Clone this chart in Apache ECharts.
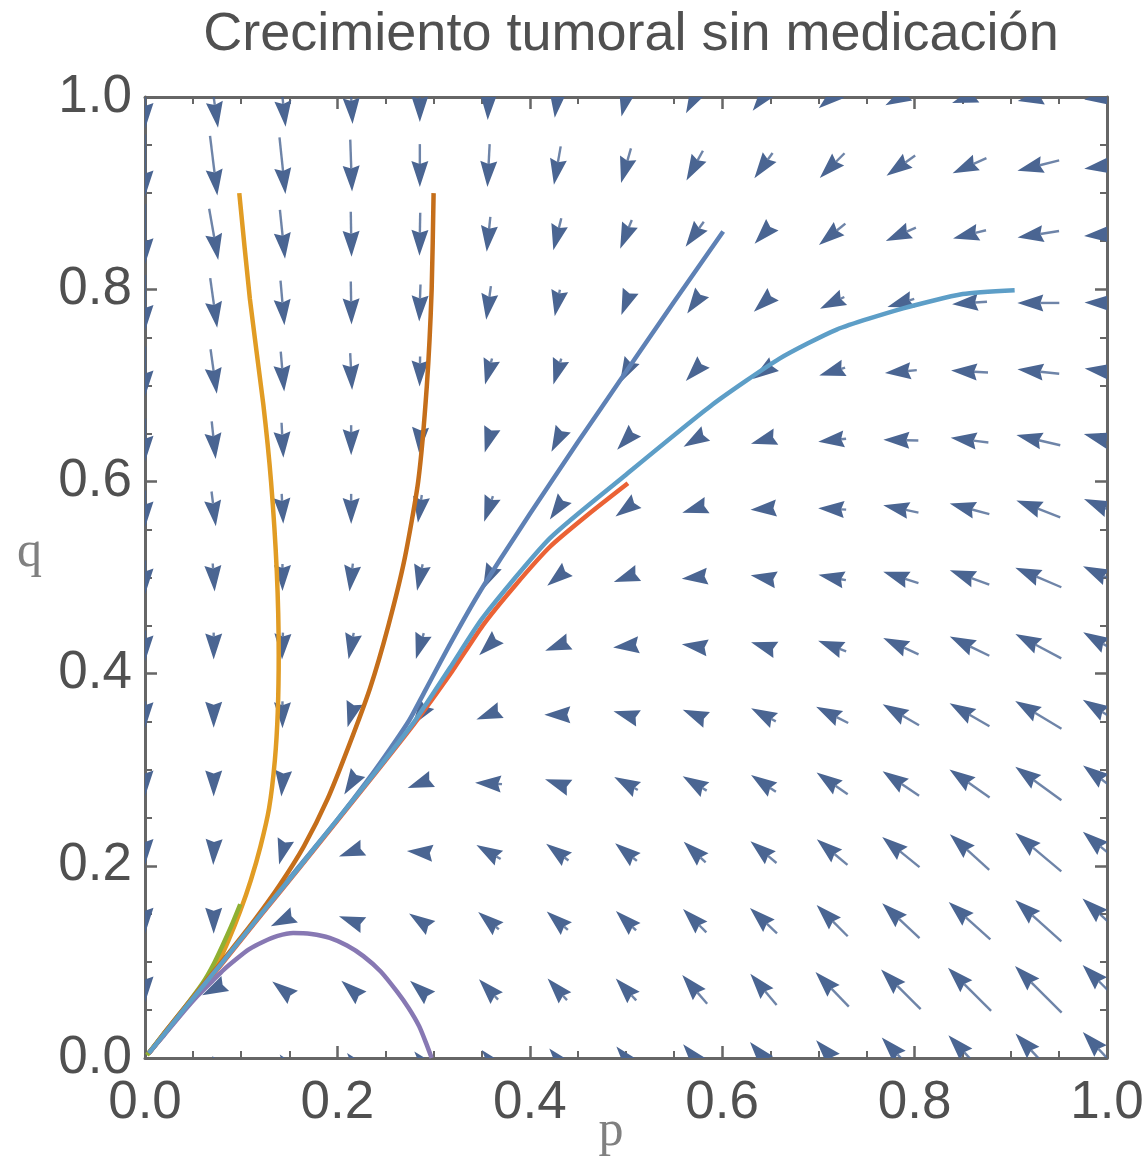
<!DOCTYPE html>
<html><head><meta charset="utf-8">
<script src="https://cdn.jsdelivr.net/npm/echarts/dist/echarts.min.js"></script>
<style>html,body{margin:0;padding:0;background:#fff}#c{width:1147px;height:1164px}</style>
</head><body><div id="c"></div>
<script>
// Grid of the vector field (15 x 15 points, step 1/14)
const gridP = [0,0.0714,0.1429,0.2143,0.2857,0.3571,0.4286,0.5,0.5714,0.6429,0.7143,0.7857,0.8571,0.9286,1];
const gridQ = [0,0.0714,0.1429,0.2143,0.2857,0.3571,0.4286,0.5,0.5714,0.6429,0.7143,0.7857,0.8571,0.9286,1];
// Arrow directions in degrees (0 = +p, 90 = +q); row index = q index, column = p index
const arrowAngles = [
  [0,125,128,130,131,130,130,130,130,130,132,133,133,133,133],
  [-90,-153,142,139,139,133,132,133,131,130,134,135,135,135,135],
  [-90,-90,-154,160,146,140,139,136,135,137,135,137,138,138,138],
  [-90,-92,-105,-160,175,150,143,141,137,140,140,141,138,140,140],
  [-90,-90,-95,-122,-160,177,161,151,149,146,145,146,145,144,143],
  [-90,-90,-90,-106,-125,-159,180,164,157,152,153,150,150,149,148],
  [-90,-90,-92,-101,-107,-136,-159,-174,172,163,159,155,154,152,150],
  [-90,-86,-90,-97,-102,-115,-141,-160,-174,170,169,162,160,157,155],
  [-90,-83,-87,-90,-98,-109,-125,-144,-163,-176,177,168,165,159,157],
  [-90,-84,-87,-90,-93,-107,-117,-133,-149,-164,-174,179,173,167,165],
  [-90,-82,-85,-87,-91,-105,-107,-118,-133,-145,-163,-175,177,174,172],
  [-90,-82,-85,-89,-92,-98,-101,-111,-125,-138,-154,-163,-176,180,179],
  [-90,-80,-84,-89,-91,-96,-104,-112,-126,-133,-141,-156,-166,-171,-176],
  [-90,-83,-84,-88,-90,-93,-100,-106,-119,-126,-135,-145,-156,-166,-172],
  [-90,-82,-84,-87,-90,-92,-97,-103,-118,-128,-140,-152,-161,-169,-174]
];
// Relative arrow magnitudes (same layout)
const arrowMags = [
  [0,5,9,13,17,21,25,30,36,42,48,56,62,67,71],
  [26,26,26,26,26,28,29,30,38,41,48,56,61,66,69],
  [26,26,26,26,26,27,28,28,33,37,44,51,56,62,66],
  [26,26,26,26,26,28,28,28,30,34,40,48,53,60,63],
  [26,26,26,26,26,27,26,27,28,30,38,44,49,57,60],
  [27,26,27,26,26,26,26,26,26,28,36,42,46,54,57],
  [31,27,27,27,27,26,26,26,26,26,30,39,44,52,55],
  [34,28,27,28,27,26,26,26,26,26,28,37,42,50,53],
  [37,35,30,30,28,27,26,26,26,26,28,36,41,47,50],
  [43,38,35,30,26,26,26,26,26,26,28,35,38,45,48],
  [50,45,40,37,30,27,27,26,26,26,27,32,37,42,45],
  [56,50,45,43,37,34,27,26,26,26,27,28,35,42,45],
  [60,52,49,45,43,35,33,31,31,26,34,33,34,42,46],
  [62,60,57,52,43,43,39,36,34,31,35,35,37,43,46],
  [64,62,60,54,50,46,42,40,37,35,35,35,37,42,46]
];
// Trajectories [p, q]
const trajBlue = [[0.601,0.86],[0.55,0.787],[0.5,0.714],[0.45,0.641],[0.4,0.566],[0.37,0.52],[0.345,0.48],[0.325,0.445],[0.307,0.412],[0.29,0.38],[0.275,0.352],[0.255,0.322],[0.23,0.287],[0.2,0.248],[0.16,0.199],[0.12,0.149],[0.08,0.099],[0.04,0.05],[0.004,0.005]];
const trajOrange = [[0.098,0.9],[0.109,0.79],[0.123,0.68],[0.131,0.6],[0.137,0.506],[0.139,0.42],[0.138,0.36],[0.135,0.31],[0.129,0.26],[0.12,0.22],[0.11,0.185],[0.099,0.153],[0.087,0.123],[0.075,0.097],[0.06,0.076],[0.04,0.05],[0.02,0.025],[0.003,0.004]];
const trajGreen = [[0.099,0.16],[0.09,0.138],[0.081,0.118],[0.071,0.097],[0.06,0.078],[0.04,0.051],[0.02,0.026],[0.002,0.003]];
const trajRed = [[0.502,0.598],[0.46,0.565],[0.421,0.532],[0.385,0.492],[0.351,0.45],[0.317,0.399],[0.28,0.348],[0.24,0.297],[0.2,0.247],[0.16,0.197],[0.12,0.148],[0.08,0.098],[0.04,0.049],[0.004,0.005]];
const trajPurple = [[0.298,0],[0.292,0.016],[0.285,0.033],[0.274,0.052],[0.262,0.069],[0.245,0.09],[0.227,0.106],[0.21,0.117],[0.192,0.125],[0.173,0.129],[0.154,0.13],[0.138,0.127],[0.123,0.121],[0.108,0.113],[0.095,0.103],[0.082,0.092],[0.07,0.08],[0.055,0.065],[0.04,0.048],[0.02,0.024],[0.004,0.005]];
const trajDarkOrange = [[0.3,0.9],[0.298,0.8],[0.293,0.7],[0.284,0.6],[0.27,0.52],[0.253,0.45],[0.234,0.385],[0.212,0.325],[0.19,0.27],[0.165,0.22],[0.14,0.18],[0.115,0.145],[0.09,0.113],[0.065,0.082],[0.04,0.051],[0.02,0.026],[0.004,0.005]];
const trajLightBlue = [[0.904,0.799],[0.85,0.795],[0.788,0.78],[0.719,0.758],[0.66,0.728],[0.59,0.68],[0.5,0.607],[0.421,0.541],[0.351,0.458],[0.317,0.406],[0.28,0.35],[0.24,0.298],[0.2,0.248],[0.16,0.198],[0.12,0.149],[0.08,0.099],[0.04,0.05],[0.004,0.005]];
const tickLabels = ['0.0','0.2','0.4','0.6','0.8','1.0'];

const arrowData = [];
for (let j = 0; j < gridQ.length; j++) {
  for (let i = 0; i < gridP.length; i++) {
    arrowData.push([gridP[i], gridQ[j], arrowAngles[j][i], arrowMags[j][i]]);
  }
}

const ARROW = '#4a6592';
const FRAME = '#666666';
function renderArrow(params, api) {
  const mag = api.value(3);
  if (!mag) return null;
  const c = api.coord([api.value(0), api.value(1)]);
  const cell = api.size([gridP[1] - gridP[0], 0])[0];
  const s = cell / 68.7;
  const k = Math.min(1, mag / 26);
  const H = 26 * s * k, W = 17 * s * k;
  let L = Math.max(mag * s, H);
  const a = api.value(2) * Math.PI / 180;
  const ux = Math.cos(a), uy = -Math.sin(a);
  const nx = -uy, ny = ux;
  const tip = [c[0] + ux * L / 2, c[1] + uy * L / 2];
  const tail = [c[0] - ux * L / 2, c[1] - uy * L / 2];
  const base = [tip[0] - ux * H, tip[1] - uy * H];
  const notch = [base[0] + ux * 3 * s * k, base[1] + uy * 3 * s * k];
  const children = [];
  if (L > H + 0.5) {
    children.push({type: 'line', shape: {x1: tail[0], y1: tail[1], x2: notch[0], y2: notch[1]},
      style: {stroke: ARROW, lineWidth: 2.4 * s, opacity: 0.8}});
  }
  children.push({type: 'polygon', shape: {points: [tip,
      [base[0] + nx * W / 2, base[1] + ny * W / 2], notch,
      [base[0] - nx * W / 2, base[1] - ny * W / 2]]},
    style: {fill: ARROW}});
  return {type: 'group', children};
}

const labelStyle = {fontFamily: 'Liberation Sans, Arial, sans-serif', fontSize: 53, color: '#505050'};
function fmt(v) { return tickLabels[Math.round(v * 5)]; }
function axisCommon(extra) {
  return Object.assign({
    type: 'value', min: 0, max: 1, interval: 0.2,
    axisLine: {show: true, onZero: false, lineStyle: {color: FRAME, width: 3}},
    axisTick: {show: true, inside: true, length: 12, lineStyle: {color: FRAME, width: 2.5}},
    minorTick: {show: true, splitNumber: 4, length: 7, lineStyle: {color: FRAME, width: 2}},
    splitLine: {show: false}, minorSplitLine: {show: false}
  }, extra);
}

function lineSeries(data, color, z) {
  return {type: 'line', data, showSymbol: false, smooth: 0.2, z,
    lineStyle: {color, width: 4.5}, silent: true, animation: false};
}

const chart = echarts.init(document.getElementById('c'), null, {renderer: 'canvas'});
chart.setOption({
  animation: false,
  backgroundColor: '#ffffff',
  title: {text: 'Crecimiento tumoral sin medicación', left: 626, textAlign: 'center', top: 3,
    textStyle: {fontFamily: 'Liberation Sans, Arial, sans-serif', fontSize: 54, fontWeight: 'normal', color: '#505050'}},
  grid: {left: 145, right: 40, top: 97, bottom: 106, containLabel: false, outerBoundsMode: 'none'},
  xAxis: [
    axisCommon({position: 'bottom', axisLabel: Object.assign({formatter: fmt, margin: 19}, labelStyle),
      name: 'p', nameLocation: 'middle', nameGap: 49, nameMoveOverlap: false,
      nameTextStyle: {fontFamily: 'Liberation Serif, Times New Roman, serif', fontSize: 50, color: '#808080', padding: [0, 30, 0, 0]}}),
    axisCommon({position: 'top', axisLabel: {show: false}})
  ],
  yAxis: [
    axisCommon({position: 'left', axisLabel: Object.assign({formatter: fmt, margin: 13}, labelStyle),
      name: 'q', nameLocation: 'middle', nameRotate: 0, nameGap: 103, nameMoveOverlap: false,
      nameTextStyle: {fontFamily: 'Liberation Serif, Times New Roman, serif', fontSize: 50, color: '#808080',
        verticalAlign: 'bottom', lineHeight: 50}}),
    axisCommon({position: 'right', axisLabel: {show: false}})
  ],
  series: [
    {type: 'custom', renderItem: renderArrow, data: arrowData, clip: true, z: 1, silent: true,
      encode: {x: 0, y: 1}},
    lineSeries(trajBlue, '#5e81b5', 3),
    lineSeries(trajOrange, '#e19c24', 3),
    lineSeries(trajGreen, '#8fb032', 3),
    lineSeries(trajRed, '#eb6235', 3),
    lineSeries(trajPurple, '#8778b3', 3),
    lineSeries(trajDarkOrange, '#c56e1a', 3),
    lineSeries(trajLightBlue, '#5d9ec7', 3)
  ]
});
</script></body></html>
